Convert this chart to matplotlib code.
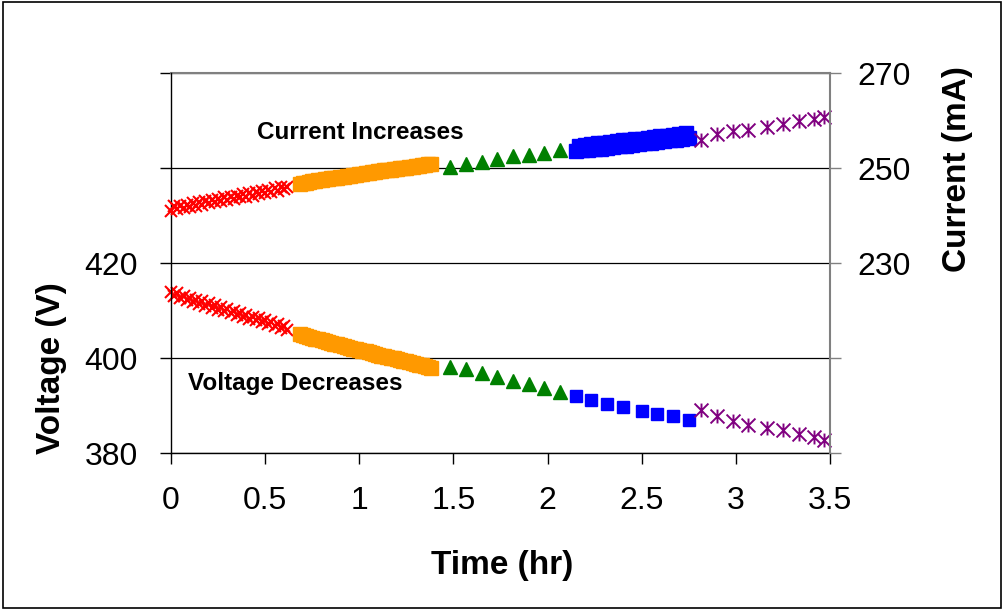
import matplotlib.pyplot as plt
from matplotlib.path import Path
from matplotlib.patches import Rectangle

plt.rcParams['font.family'] = ['Liberation Sans', 'DejaVu Sans']

# Sample times (minutes) and readings for each charging stage
red_min = [0, 1, 2, 3, 4, 5, 6, 7, 8, 9, 10, 11, 12, 13, 14, 15, 16, 17, 18, 19,
           20, 21, 22, 23, 24, 25, 26, 27, 28, 29, 30, 31, 32, 33, 34, 35, 36, 37]
red_ma = [241.0, 241.9, 241.3, 242.1, 241.6, 242.3, 241.8, 242.6, 242.1, 242.8,
          242.3, 243.0, 242.6, 243.3, 242.8, 243.5, 243.0, 243.8, 243.3, 244.0,
          243.5, 244.2, 243.8, 244.5, 244.0, 244.7, 244.2, 245.0, 244.5, 245.2,
          244.8, 245.4, 245.0, 245.7, 245.2, 245.9, 245.5, 246.1]
red_v = [414.0, 413.0, 413.6, 412.6, 413.1, 412.2, 412.7, 411.8, 412.3, 411.4,
         411.9, 411.0, 411.5, 410.6, 411.1, 410.2, 410.7, 409.8, 410.3, 409.4,
         409.9, 409.0, 409.5, 408.6, 409.1, 408.3, 408.7, 407.9, 408.4, 407.5,
         408.0, 407.1, 407.6, 406.7, 407.2, 406.3, 406.8, 405.9]

orange_min = [41, 42, 43, 44, 45, 46, 47, 48, 49, 50, 51, 52, 53, 54, 55, 56, 57,
              58, 59, 60, 61, 62, 63, 64, 65, 66, 67, 68, 69, 70, 71, 72, 73, 74,
              75, 76, 77, 78, 79, 80, 81, 82, 83]
orange_ma = [246.7, 246.8, 246.9, 247.0, 247.2, 247.3, 247.4, 247.5, 247.6, 247.7,
             247.8, 247.9, 248.0, 248.1, 248.2, 248.3, 248.4, 248.5, 248.6, 248.7,
             248.8, 248.9, 249.0, 249.1, 249.2, 249.3, 249.4, 249.5, 249.6, 249.6,
             249.7, 249.8, 249.9, 250.0, 250.1, 250.2, 250.3, 250.4, 250.5, 250.6,
             250.7, 250.8, 250.9]
orange_v = [405.0, 404.8, 404.6, 404.4, 404.3, 404.1, 403.9, 403.7, 403.6, 403.4,
            403.2, 403.0, 402.9, 402.7, 402.5, 402.4, 402.2, 402.0, 401.9, 401.7,
            401.5, 401.4, 401.2, 401.0, 400.9, 400.7, 400.5, 400.4, 400.2, 400.1,
            399.9, 399.7, 399.6, 399.4, 399.3, 399.1, 398.9, 398.8, 398.6, 398.5,
            398.3, 398.1, 398.0]

green_min = [89, 94, 99, 104, 109, 114, 119, 124]
green_ma = [250.3, 250.8, 251.2, 251.9, 252.5, 252.7, 253.2, 253.8]
green_v = [398.2, 397.6, 396.8, 396.1, 395.2, 394.5, 393.6, 392.9]

blue_min_ma = [129, 130, 131, 132, 133, 134, 135, 136, 137, 138, 139, 140, 141,
               142, 143, 144, 145, 146, 147, 148, 149, 150, 151, 152, 153, 154,
               155, 156, 157, 158, 159, 160, 161, 162, 163, 164, 165]
blue_ma = [253.5, 254.7, 253.7, 254.9, 253.8, 255.0, 254.0, 255.2, 254.1, 255.3,
           254.3, 255.5, 254.4, 255.6, 254.6, 255.8, 254.7, 255.9, 254.9, 256.1,
           255.0, 256.2, 255.2, 256.4, 255.3, 256.5, 255.5, 256.7, 255.6, 256.8,
           255.8, 257.0, 255.9, 257.1, 256.1, 257.3, 256.4]
blue_min_v = [129, 134, 139, 144, 150, 155, 160, 165]
blue_v = [392.1, 391.2, 390.4, 389.6, 388.9, 388.2, 387.7, 386.9]

purple_min = [169, 174, 179, 184, 190, 195, 200, 205, 208]
purple_ma = [256.0, 257.2, 257.8, 258.1, 258.7, 259.2, 259.8, 260.3, 260.8]
purple_v = [389.1, 387.8, 386.7, 385.9, 385.2, 384.8, 384.0, 383.3, 382.7]

x_ticks = [0, 0.5, 1, 1.5, 2, 2.5, 3, 3.5]
x_labels = ['0', '0.5', '1', '1.5', '2', '2.5', '3', '3.5']
v_ticks = [380, 400, 420, 440, 460]
v_labels = ['380', '400', '420', '', '']
ma_ticks = [190, 210, 230, 250, 270]
ma_labels = ['', '', '230', '250', '270']


def hours(minutes):
    return [m / 60 for m in minutes]


# x with a vertical bar through it
star = Path([(-1, -1), (1, 1), (-1, 1), (1, -1), (0, -1), (0, 1)],
            [Path.MOVETO, Path.LINETO, Path.MOVETO, Path.LINETO,
             Path.MOVETO, Path.LINETO])

fig = plt.figure(figsize=(10.05, 6.13), dpi=100)
fig.patches.append(Rectangle((0.003, 0.008), 0.993, 0.988, transform=fig.transFigure,
                             fill=False, edgecolor='black', linewidth=1.2))

ax = fig.add_axes([0.1701, 0.2610, 0.6557, 0.6199])
ax2 = ax.twinx()

ax.set_xlim(0, 3.5)
ax.set_ylim(380, 460)
ax2.set_ylim(190, 270)

ax.set_xticks(x_ticks)
ax.set_xticklabels(x_labels)
ax.set_yticks(v_ticks)
ax.set_yticklabels(v_labels)
ax2.set_yticks(ma_ticks)
ax2.set_yticklabels(ma_labels)

ax.grid(axis='y', color='black', linewidth=0.9)
ax.set_axisbelow(True)

ax.tick_params(axis='x', direction='out', length=8, width=1, labelsize=23, pad=16)
ax.tick_params(axis='y', direction='out', length=8, width=1, labelsize=23, pad=16)
ax2.tick_params(axis='y', direction='out', length=8, width=1, labelsize=23, pad=12,
                color='#808080')

for s in ['right', 'top']:
    ax.spines[s].set_visible(False)
for s in ['left', 'top', 'bottom']:
    ax2.spines[s].set_visible(False)
ax2.spines['right'].set_color('#808080')
ax2.spines['right'].set_linewidth(1.5)
ax.spines['left'].set_linewidth(1)
ax.spines['bottom'].set_linewidth(1)
ax.axhline(460, color='#808080', linewidth=1.5, clip_on=False)

# voltage markers
ax.plot(hours(red_min), red_v, 'x', color='red', ms=8.5, mew=1.5, clip_on=False)
ax.plot(hours(orange_min), orange_v, 's', color='#FF9900', ms=10, clip_on=False)
ax.plot(hours(green_min), green_v, '^', color='#008000', ms=10, clip_on=False)
ax.plot(hours(blue_min_v), blue_v, 's', color='blue', ms=9, clip_on=False)
ax.plot(hours(purple_min), purple_v, marker=star, ls='none', color='#800080',
        ms=10, mew=1.4, clip_on=False)

# current markers
ax2.plot(hours(red_min), red_ma, 'x', color='red', ms=8.5, mew=1.5, clip_on=False)
ax2.plot(hours(orange_min), orange_ma, 's', color='#FF9900', ms=10, clip_on=False)
ax2.plot(hours(green_min), green_ma, '^', color='#008000', ms=10, clip_on=False)
ax2.plot(hours(blue_min_ma), blue_ma, 's', color='blue', ms=10, clip_on=False)
ax2.plot(hours(purple_min), purple_ma, marker=star, ls='none', color='#800080',
         ms=10, mew=1.4, clip_on=False)

ax2.text(0.457, 257.4, 'Current Increases', fontsize=17.5, fontweight='bold',
         ha='left', va='center')
ax.text(0.09, 394.7, 'Voltage Decreases', fontsize=17.5, fontweight='bold',
        ha='left', va='center')

fig.text(0.0517, 0.3997, 'Voltage (V)', rotation=90, fontsize=24, fontweight='bold',
         ha='center', va='center')
fig.text(0.9532, 0.7243, 'Current (mA)', rotation=90, fontsize=24, fontweight='bold',
         ha='center', va='center')
fig.text(0.4995, 0.0783, 'Time (hr)', fontsize=24, fontweight='bold',
         ha='center', va='center')

fig.savefig('out.png', dpi=100)
